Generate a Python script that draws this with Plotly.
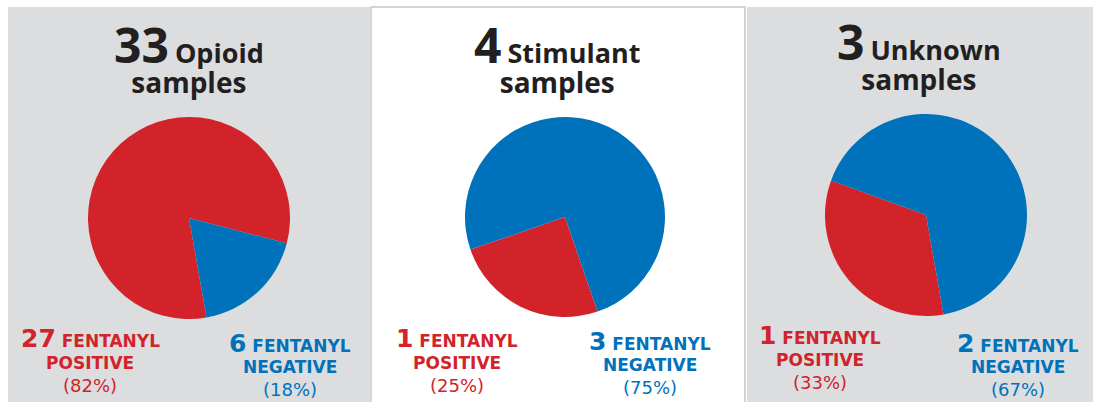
import plotly.graph_objects as go

# ---- data ----
categories = ["Opioid", "Stimulant", "Unknown"]
positive = [27, 1, 1]
negative = [6, 3, 2]
slice_names = ["Fentanyl positive", "Fentanyl negative"]
pos_words = ["FENTANYL", "POSITIVE"]
neg_words = ["FENTANYL", "NEGATIVE"]
title_suffix = "samples"

# ---- style ----
W, H = 1097, 402
RED = "#d2232a"
BLUE = "#0072bc"
GRAY = "#dcdddf"
DARK = "#231f20"
TITLE_FONT = "Open Sans"
LABEL_FONT = "DejaVu Sans"


def fx(x):
    return x / W


def fy(y):
    return 1 - y / H


panels = [  # x0, x1, fill, border
    (8, 371, GRAY, None),
    (371, 745, "white", "#d4d4d4"),
    (747, 1093, GRAY, None),
]
pie_geo = [(189, 218, 101), (565, 217, 100), (926, 215, 101)]  # cx, cy, r
rotations = [170, 161, 170]
title_cx = [189, 557, 919]
title_y = [56, 56, 53]
left_cx = [90, 457, 820]
right_cx = [290, 650, 1018]
left_y = [(338, 363, 385), (338, 363, 385), (335, 360, 382)]
right_y = [(343, 367, 389), (341, 365, 387), (343, 367, 389)]

fig = go.Figure()
shapes = []
annotations = []

for i, (x0, x1, fill, border) in enumerate(panels):
    shapes.append(dict(type="rect", xref="paper", yref="paper",
                       x0=fx(x0), x1=fx(x1), y0=fy(404), y1=fy(7),
                       fillcolor=fill,
                       line=dict(color=border or fill, width=2 if border else 0),
                       layer="below"))

for i, cat in enumerate(categories):
    cx, cy, r = pie_geo[i]
    fig.add_trace(go.Pie(
        values=[positive[i], negative[i]],
        labels=slice_names,
        marker=dict(colors=[RED, BLUE], line=dict(width=0)),
        sort=False, direction="clockwise", rotation=rotations[i],
        textinfo="none", showlegend=False,
        hovertemplate="%{label}: %{value} (%{percent})<extra>" + cat + "</extra>",
        domain=dict(x=[fx(cx - r), fx(cx + r)], y=[fy(cy + r), fy(cy - r)]),
    ))

    total = positive[i] + negative[i]
    # title (one text block, two lines)
    annotations.append(dict(
        x=fx(title_cx[i]), y=fy(title_y[i]), xref="paper", yref="paper",
        xanchor="center", yanchor="middle", showarrow=False, align="center",
        text=(f"<span style='font-size:48px'>{total}</span> "
              f"<span style='font-size:27px'>{cat}</span><br>"
              f"<span style='font-size:28px'>{title_suffix}</span>"),
        font=dict(family=TITLE_FONT, size=23, color=DARK, weight=700)))

    # bottom labels
    pp = round(100 * positive[i] / total)
    npct = round(100 * negative[i] / total)
    for cxs, ys, n, words, pct, col in [
        (left_cx[i], left_y[i], positive[i], pos_words, pp, RED),
        (right_cx[i], right_y[i], negative[i], neg_words, npct, BLUE),
    ]:
        lines = [f"<span style='font-size:25px'>{n}</span> {words[0]}", words[1]]
        for j, t in enumerate(lines):
            annotations.append(dict(
                x=fx(cxs), y=fy(ys[j]), xref="paper", yref="paper",
                xanchor="center", yanchor="middle", showarrow=False,
                text=t, font=dict(family=LABEL_FONT, size=17, color=col, weight=700)))
        annotations.append(dict(
            x=fx(cxs), y=fy(ys[2]), xref="paper", yref="paper",
            xanchor="center", yanchor="middle", showarrow=False,
            text=f"({pct}%)", font=dict(family=LABEL_FONT, size=18, color=col)))

fig.update_layout(
    width=W, height=H, margin=dict(l=0, r=0, t=0, b=0),
    paper_bgcolor="white", plot_bgcolor="white",
    shapes=shapes, annotations=annotations,
)

fig.write_html("out.html", config={"displayModeBar": False},
               post_script="document.body.style.margin='0';document.body.style.overflow='hidden';")
